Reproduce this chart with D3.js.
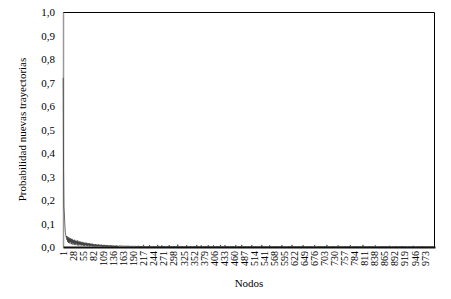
<!DOCTYPE html>
<html>
<head>
<meta charset="utf-8">
<script src="https://cdn.jsdelivr.net/npm/d3@7"></script>
<style>
  body { margin: 0; background: #fff; }
  text { font-family: "Liberation Serif", "DejaVu Serif", serif; fill: #000; }
</style>
</head>
<body>
<div class="chart"></div>
<script>
const w = 451;
const h = 299;

const yTicks = [0, 0.1, 0.2, 0.3, 0.4, 0.5, 0.6, 0.7, 0.8, 0.9, 1.0];
const tickLabels = [1, 28, 55, 82, 109, 136, 163, 190, 217, 244, 271, 298, 325, 352, 379, 406, 433, 460, 487, 514, 541, 568, 595, 622, 649, 676, 703, 730, 757, 784, 811, 838, 865, 892, 919, 946, 973];

// probability per node (1..1000)
const prob = [
  0.72,0.33,0.17,0.15,0.11,0.08,0.062,0.05,0.041,0.046,0.03,0.045,0.022,0.04,0.018,0.042,0.02,0.036,0.015,0.038,0.022,0.034,0.012,0.035,0.018,
  0.032,0.01,0.03,0.016,0.028,0.009,0.031,0.014,0.026,0.008,0.027,0.015,0.024,0.007,0.028,0.012,0.022,0.006,0.025,0.011,0.021,0.007,0.023,0.01,0.019,
  0.006,0.022,0.009,0.018,0.005,0.02,0.008,0.017,0.004,0.019,0.009,0.016,0.005,0.018,0.007,0.015,0.004,0.017,0.008,0.014,0.003,0.016,0.006,0.013,0.004,
  0.015,0.006,0.012,0.003,0.014,0.005,0.011,0.003,0.013,0.006,0.01,0.002,0.012,0.005,0.01,0.003,0.011,0.004,0.009,0.002,0.011,0.005,0.009,0.003,0.01,
  0.004,0.008,0.002,0.01,0.004,0.008,0.002,0.009,0.003,0.008,0.002,0.009,0.004,0.007,0.002,0.008,0.003,0.007,0.001,0.008,0.003,0.006,0.002,0.007,0.003,
  0.006,0.001,0.007,0.003,0.006,0.002,0.007,0.002,0.005,0.001,0.006,0.003,0.005,0.001,0.006,0.002,0.005,0.001,0.006,0.002,0.005,0.001,0.005,0.002,0.004,
  0.005,0.004,0.006,0.003,0.005,0.004,0.005,0.003,0.004,0.005,0.003,0.004,0.005,0.003,0.004,0.003,0.005,0.004,0.003,0.004,0.003,0.005,0.003,0.004,0.003,
  0.004,0.003,0.002,0.004,0.003,0.002,0.003,0.004,0.002,0.003,0.002,0.004,0.003,0.002,0.003,0.002,0.003,0.004,0.002,0.003,0.002,0.003,0.002,0.004,0.002,
  0.003,0.002,0.002,0.005,0.002,0.001,0.003,0.002,0.002,0.004,0.001,0.002,0.003,0.002,0.001,0.002,0.009,0.002,0.001,0.002,0.003,0.001,0.002,0.002,0.001,
  0.002,0.001,0.003,0.002,0.001,0.002,0.002,0.008,0.001,0.002,0.001,0.003,0.002,0.001,0.002,0.001,0.002,0.004,0.001,0.002,0.001,0.002,0.003,0.001,0.002,
  0.001,0.002,0.001,0.002,0.009,0.001,0.002,0.001,0.001,0.003,0.002,0.001,0.002,0.001,0.001,0.007,0.001,0.002,0.001,0.001,0.002,0.001,0.004,0.001,0.002,
  0.001,0.001,0.002,0.001,0.001,0.003,0.001,0.001,0.002,0.001,0.008,0.001,0.001,0.002,0.001,0.001,0.001,0.003,0.001,0.001,0.002,0.001,0.001,0.004,0.001,
  0.002,0.001,0.001,0.003,0.001,0.002,0.001,0.001,0.01,0.001,0.001,0.002,0.001,0.001,0.003,0.001,0.002,0.001,0.001,0.001,0.004,0.001,0.002,0.001,0.001,
  0.001,0.003,0.001,0.001,0.002,0.001,0.001,0.008,0.001,0.002,0.001,0.001,0.001,0.003,0.001,0.001,0.002,0.001,0.004,0.001,0.001,0.002,0.001,0.001,0.001,
  0.002,0.001,0.004,0.001,0.001,0.002,0.001,0.001,0.001,0.009,0.001,0.001,0.002,0.001,0.001,0.003,0.001,0.001,0.001,0.002,0.001,0.007,0.001,0.001,0.002,
  0.001,0.001,0.001,0.003,0.001,0.002,0.001,0.001,0.004,0.001,0.001,0.001,0.002,0.001,0.001,0.008,0.001,0.001,0.002,0.001,0.001,0.003,0.001,0.001,0.001,
  0.001,0.002,0.001,0.001,0.007,0.001,0.001,0.001,0.002,0.001,0.001,0.003,0.001,0.001,0.001,0.004,0.001,0.002,0.001,0.001,0.001,0.002,0.001,0.009,0.001,
  0.001,0.001,0.002,0.001,0.001,0.003,0.001,0.001,0.001,0.002,0.008,0.001,0.001,0.001,0.002,0.001,0.001,0.004,0.001,0.001,0.002,0.001,0.001,0.001,0.003,
  0.001,0.001,0.001,0.002,0,0.001,0.004,0.001,0.001,0,0.001,0.002,0.001,0.001,0.008,0.001,0,0.001,0.002,0.001,0.001,0,0.003,0.001,0.001,
  0.001,0,0.002,0.001,0.001,0.009,0.001,0,0.001,0.001,0.002,0.001,0,0.001,0.004,0.001,0.001,0,0.001,0.002,0.001,0.001,0,0.003,0.001,
  0,0.001,0.001,0.002,0.001,0,0.001,0.008,0.001,0.001,0,0.001,0.002,0.001,0,0.001,0.001,0.004,0.001,0,0.001,0.002,0.001,0.001,0,
  0.001,0.003,0.001,0,0.001,0.001,0.002,0.001,0,0.009,0.001,0.001,0,0.001,0.002,0.001,0.001,0,0.001,0.004,0.001,0,0.001,0.002,0.001,
  0.001,0,0.001,0.002,0.001,0.007,0,0.001,0.001,0.002,0,0.001,0.001,0.003,0.001,0,0.001,0.001,0.002,0,0.001,0.004,0.001,0.001,0,
  0.002,0.001,0,0.001,0.001,0.003,0.001,0,0.001,0.002,0.001,0.001,0,0.008,0.001,0.001,0,0.001,0.002,0.001,0,0.001,0.001,0.003,0.001,
  0,0.001,0.002,0.001,0,0.001,0.004,0.001,0,0.001,0.001,0.002,0.001,0,0.001,0.009,0.001,0,0.001,0.001,0.002,0,0.001,0.001,0.003,
  0.001,0,0.001,0.002,0.001,0,0.001,0.001,0.004,0.001,0,0.001,0.002,0.001,0,0.001,0.001,0.003,0,0.001,0.008,0.001,0,0.001,0.002,
  0.001,0.001,0,0.001,0.002,0.001,0,0.003,0.001,0.001,0,0.001,0.002,0.001,0,0.001,0.004,0.001,0,0.001,0.001,0.002,0.001,0,0.001,
  0.001,0.008,0.001,0,0.001,0.002,0.001,0,0.001,0.001,0.003,0.001,0,0.001,0.002,0.001,0,0.001,0.004,0.001,0,0.001,0.001,0.002,0,
  0.001,0.001,0.003,0,0.001,0.002,0.001,0,0.001,0.009,0.001,0,0.001,0.001,0.002,0.001,0,0.001,0.003,0.001,0,0.001,0.002,0.001,0,
  0.001,0.004,0.001,0,0.001,0.001,0.002,0,0.001,0.001,0.003,0.001,0,0.001,0.007,0.001,0,0.001,0.002,0.001,0,0.001,0.001,0.002,0.001,
  0,0.001,0.003,0.001,0,0.001,0.002,0.001,0,0.001,0.004,0.001,0,0.001,0.001,0.002,0,0.001,0.001,0.003,0.001,0,0.008,0.001,0.001,
  0,0.001,0.002,0.001,0,0.001,0.001,0.003,0,0.001,0.002,0.001,0,0.001,0.004,0.001,0,0.001,0.001,0.002,0.001,0,0.001,0.003,0.001,
  0.001,0,0.001,0.002,0.001,0,0.009,0.001,0,0.001,0.001,0.002,0,0.001,0.001,0.003,0.001,0,0.001,0.002,0.001,0,0.001,0.004,0.001,
  0,0.001,0.001,0.002,0,0.001,0.003,0.001,0,0.001,0.002,0.001,0,0.001,0.007,0.001,0,0.001,0.001,0.002,0.001,0,0.001,0.001,0.003,
  0.001,0,0.001,0.002,0.001,0,0.001,0.004,0.001,0,0.001,0.002,0.001,0,0.001,0.001,0.003,0,0.001,0.002,0.001,0,0.001,0.001,0.002,
  0,0.001,0.005,0.001,0,0.001,0.002,0.001,0,0.001,0.001,0.003,0.001,0,0.001,0.002,0.001,0,0.001,0.004,0.001,0,0.001,0.001,0.002,
  0.001,0,0.001,0.003,0.001,0,0.001,0.002,0.001,0,0.001,0.001,0.004,0,0.001,0.002,0.001,0,0.001,0.001,0.003,0.001,0,0.001,0.002,
  0.001,0,0.001,0.001,0.002,0,0.001,0.003,0.001,0,0.001,0.002,0.001,0,0.001,0.001,0.005,0.001,0,0.001,0.002,0.001,0,0.001,0.001,
  0.002,0.001,0,0.001,0.003,0.001,0,0.001,0.002,0.001,0,0.001,0.001,0.002,0,0.001,0.004,0.001,0,0.001,0.001,0.002,0.001,0,0.001,
  0.001,0.002,0.001,0,0.001,0.003,0.001,0,0.001,0.001,0.002,0,0.001,0.001,0.002,0.001,0,0.001,0.003,0.001,0,0.001,0.002,0.001,0.001
];

const nodes = prob.map((d, i) => i + 1);

const margin = { top: 12, right: 16, bottom: 52, left: 63 };
const iw = w - margin.left - margin.right;
const ih = h - margin.top - margin.bottom;

const svg = d3.select(".chart")
  .append("svg")
  .attr("width", w)
  .attr("height", h);

const g = svg.append("g")
  .attr("transform", `translate(${margin.left},${margin.top})`);

const x = d3.scalePoint()
  .domain(nodes)
  .range([0, iw])
  .padding(0.5);

const y = d3.scaleLinear()
  .domain([0, 1])
  .range([ih, 0]);

const fmt = d3.format(".1f");

// plot area border (top + right)
g.append("path")
  .attr("d", `M0,0.5H${iw - 0.5}V${ih}`)
  .attr("fill", "none")
  .attr("stroke", "#000")
  .attr("stroke-width", 1);

// y axis
const yAxis = g.append("g")
  .call(d3.axisLeft(y).tickValues(yTicks).tickSize(0).tickPadding(8).tickFormat(d => fmt(d).replace(".", ",")));
yAxis.select(".domain").attr("stroke", "#999").attr("stroke-width", 1.5);
yAxis.selectAll("text")
  .attr("font-size", "11px")
  .style("font-family", "Liberation Serif, serif");

// data line
const line = d3.line()
  .x((d, i) => x(nodes[i]))
  .y(d => y(d));

g.append("path")
  .datum(prob)
  .attr("fill", "none")
  .attr("stroke", "#333")
  .attr("stroke-width", 0.7)
  .attr("d", line);

// x axis
const xAxis = g.append("g")
  .attr("transform", `translate(0,${ih})`)
  .call(d3.axisBottom(x).tickValues(tickLabels).tickSize(0));
xAxis.select(".domain").attr("stroke", "#111").attr("stroke-width", 2);
xAxis.selectAll("text")
  .attr("font-size", "10px")
  .style("font-family", "Liberation Serif, serif")
  .attr("transform", "rotate(-90)")
  .attr("text-anchor", "end")
  .attr("x", -4)
  .attr("y", 0)
  .attr("dy", "0.33em");

// axis titles
svg.append("text")
  .attr("x", margin.left + iw / 2)
  .attr("y", 287)
  .attr("text-anchor", "middle")
  .attr("font-size", "11px")
  .text("Nodos");

svg.append("text")
  .attr("transform", `translate(26,${margin.top + ih / 2}) rotate(-90)`)
  .attr("text-anchor", "middle")
  .attr("font-size", "11px")
  .text("Probabilidad nuevas trayectorias");
</script>
</body>
</html>
